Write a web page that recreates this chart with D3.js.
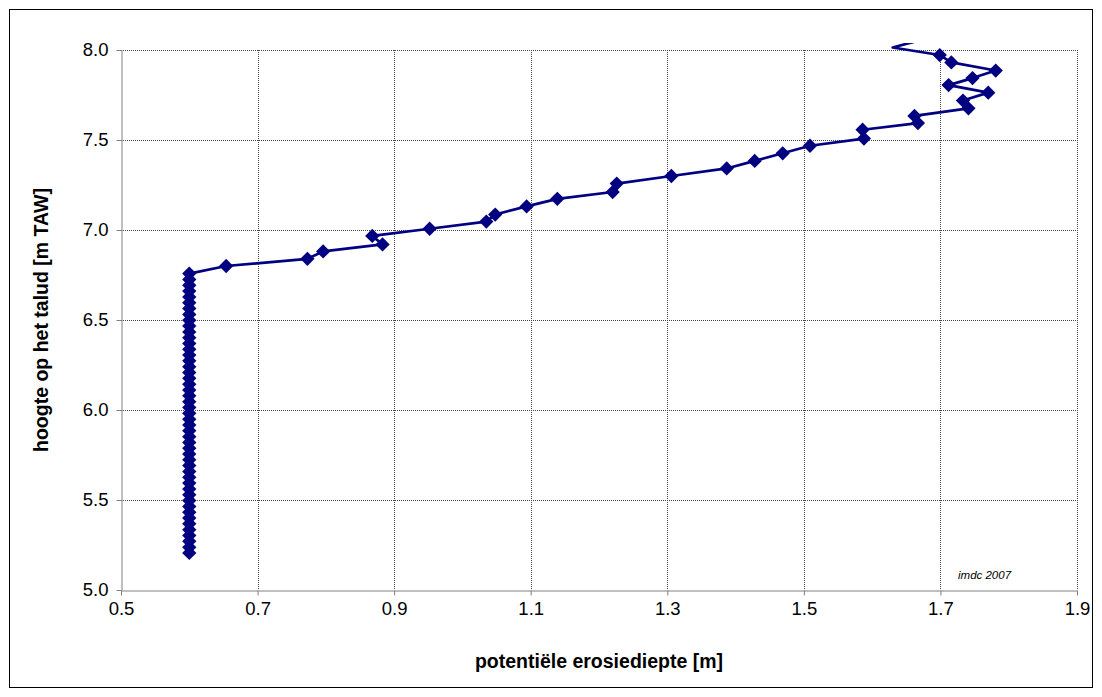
<!DOCTYPE html>
<html>
<head>
<meta charset="utf-8">
<script src="https://cdn.jsdelivr.net/npm/d3@7"></script>
<style>
  body { margin: 0; background: #fff; }
  svg { font-family: "Liberation Sans", Arial, sans-serif; }
</style>
</head>
<body>
<svg id="chart" width="1102" height="697"></svg>
<script>
// erosion depth [m] and slope height [m TAW]
const depth = [
  0.6, 0.6, 0.6, 0.6, 0.6, 0.6, 0.6, 0.6, 0.6, 0.6,
  0.6, 0.6, 0.6, 0.6, 0.6, 0.6, 0.6, 0.6, 0.6, 0.6,
  0.6, 0.6, 0.6, 0.6, 0.6, 0.6, 0.6, 0.6, 0.6, 0.6,
  0.6, 0.6, 0.6, 0.6, 0.6, 0.6, 0.6, 0.6, 0.6, 0.6,
  0.6, 0.6, 0.6, 0.6, 0.6, 0.6, 0.6, 0.6, 0.6,
  0.654, 0.773, 0.796, 0.883, 0.868, 0.952, 1.035, 1.048, 1.094, 1.139,
  1.220, 1.226, 1.306, 1.387, 1.428, 1.469, 1.509, 1.588, 1.586, 1.667,
  1.662, 1.741, 1.733, 1.770, 1.712, 1.747, 1.781, 1.716, 1.699, 1.630,
  1.672
];
const height = [
  5.206, 5.238, 5.271, 5.303, 5.335, 5.368, 5.400, 5.432, 5.464, 5.497,
  5.529, 5.561, 5.594, 5.626, 5.658, 5.691, 5.723, 5.755, 5.788, 5.820,
  5.852, 5.885, 5.917, 5.949, 5.982, 6.014, 6.046, 6.079, 6.111, 6.143,
  6.176, 6.208, 6.240, 6.273, 6.305, 6.337, 6.370, 6.402, 6.434, 6.467,
  6.499, 6.531, 6.564, 6.596, 6.628, 6.661, 6.693, 6.725, 6.758,
  6.800, 6.840, 6.881, 6.920, 6.967, 7.007, 7.047, 7.086, 7.131, 7.173,
  7.211, 7.258, 7.300, 7.342, 7.384, 7.426, 7.468, 7.508, 7.557, 7.594,
  7.634, 7.676, 7.719, 7.763, 7.805, 7.844, 7.886, 7.931, 7.972, 8.014,
  8.056
];
const xTicks = [0.5, 0.7, 0.9, 1.1, 1.3, 1.5, 1.7, 1.9];
const yTicks = [5.0, 5.5, 6.0, 6.5, 7.0, 7.5, 8.0];

const xLabel = "potentiële erosiediepte [m]";
const yLabel = "hoogte op het talud [m TAW]";
const note = "imdc 2007";

const navy = "#000080";
const plot = { left: 121, right: 1077, top: 50, bottom: 590 };

const svg = d3.select("#chart");

// outer chart border
svg.append("rect")
  .attr("x", 9.5).attr("y", 9.5)
  .attr("width", 1083).attr("height", 678)
  .attr("fill", "#fff").attr("stroke", "#000").attr("stroke-width", 1);

const xScale = d3.scaleLinear().domain([0.5, 1.9]).range([plot.left, plot.right]);
const yScale = d3.scaleLinear().domain([5, 8]).range([plot.bottom, plot.top]);

const points = depth.map((d, i) => ({ x: d, y: height[i] }));

// gridlines
const grid = svg.append("g").attr("id", "grid");
grid.selectAll(".gx").data(xTicks.slice(1)).join("line")
  .attr("x1", d => Math.round(xScale(d)) + 0.5).attr("x2", d => Math.round(xScale(d)) + 0.5)
  .attr("y1", plot.top).attr("y2", plot.bottom)
  .attr("stroke", "#444").attr("stroke-width", 1).attr("stroke-dasharray", "1,1");
grid.selectAll(".gy").data(yTicks.slice(1)).join("line")
  .attr("y1", d => Math.round(yScale(d)) + 0.5).attr("y2", d => Math.round(yScale(d)) + 0.5)
  .attr("x1", plot.left).attr("x2", plot.right)
  .attr("stroke", "#444").attr("stroke-width", 1).attr("stroke-dasharray", "1,1");

// axes
const xAxis = d3.axisBottom(xScale).tickValues(xTicks).tickFormat(d3.format(".1f"))
  .tickSizeInner(5).tickSizeOuter(0).tickPadding(6);
const yAxis = d3.axisLeft(yScale).tickValues(yTicks).tickFormat(d3.format(".1f"))
  .tickSizeInner(5).tickSizeOuter(0).tickPadding(8);

const gx = svg.append("g").attr("id", "axis-x")
  .attr("transform", `translate(0, ${plot.bottom + 0.5})`)
  .call(xAxis);
const gy = svg.append("g").attr("id", "axis-y")
  .attr("transform", `translate(${plot.left + 0.5}, 0)`)
  .call(yAxis);

[gx, gy].forEach(g => {
  g.select(".domain").attr("stroke", "#808080");
  g.selectAll(".tick line").attr("stroke", "#808080");
  g.selectAll(".tick text").attr("font-size", 18.5).attr("fill", "#000")
    .attr("font-family", "Liberation Sans, Arial, sans-serif");
});

// series
svg.append("clipPath").attr("id", "plot-clip")
  .append("rect").attr("x", plot.left).attr("y", plot.top - 7)
  .attr("width", plot.right - plot.left).attr("height", plot.bottom - plot.top + 7);

const line = d3.line().x(d => xScale(d.x)).y(d => yScale(d.y));

svg.append("path")
  .datum(points)
  .attr("clip-path", "url(#plot-clip)")
  .attr("d", line)
  .attr("fill", "none")
  .attr("stroke", navy)
  .attr("stroke-width", 2.7)
  .attr("stroke-linejoin", "round");

const diamond = d3.symbol().type(d3.symbolDiamond2).size(130);
svg.append("g").attr("id", "markers")
  .selectAll("path")
  .data(points.filter(d => d.y <= 8))
  .join("path")
  .attr("transform", d => `translate(${xScale(d.x)}, ${yScale(d.y)})`)
  .attr("d", diamond)
  .attr("fill", navy);

// labels
svg.append("text")
  .attr("x", (plot.left + plot.right) / 2).attr("y", 668)
  .attr("text-anchor", "middle")
  .attr("font-size", 19.5).attr("font-weight", "bold")
  .text(xLabel);

svg.append("text")
  .attr("transform", `translate(48, ${(plot.top + plot.bottom) / 2}) rotate(-90)`)
  .attr("text-anchor", "middle")
  .attr("font-size", 19.5).attr("font-weight", "bold")
  .text(yLabel);

svg.append("text")
  .attr("x", 958).attr("y", 579)
  .attr("font-size", 11.5).attr("font-style", "italic")
  .text(note);
</script>
</body>
</html>
